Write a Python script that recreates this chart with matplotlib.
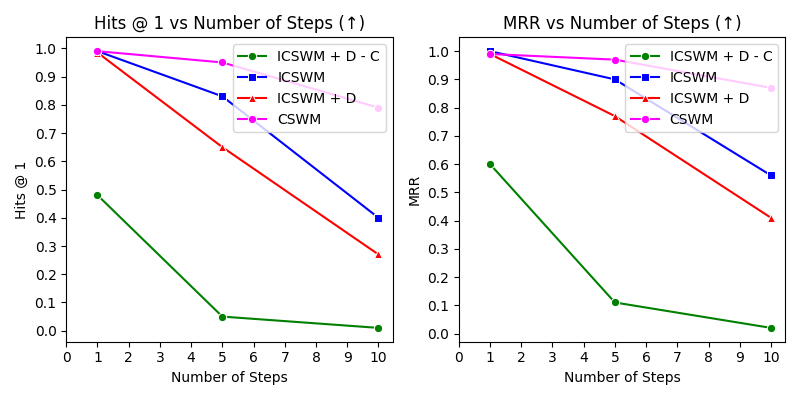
import matplotlib.pyplot as plt

steps = [1, 5, 10]
labels = ['ICSWM + D - C', 'ICSWM', 'ICSWM + D', 'CSWM']
colors = ['green', 'blue', 'red', 'magenta']
markers = ['o', 's', '^', 'o']

hits_icswm_dc = [0.48, 0.05, 0.01]
hits_icswm = [0.99, 0.83, 0.40]
hits_icswm_d = [0.985, 0.65, 0.27]
hits_cswm = [0.99, 0.95, 0.79]

mrr_icswm_dc = [0.60, 0.11, 0.02]
mrr_icswm = [1.00, 0.90, 0.56]
mrr_icswm_d = [0.99, 0.77, 0.41]
mrr_cswm = [0.99, 0.97, 0.87]

hits = [hits_icswm_dc, hits_icswm, hits_icswm_d, hits_cswm]
mrr = [mrr_icswm_dc, mrr_icswm, mrr_icswm_d, mrr_cswm]


def desenha(ax, series, titulo, ylabel):
    for vals, lab, cor, mk in zip(series, labels, colors, markers):
        ax.plot(steps, vals, color=cor, marker=mk, label=lab,
                markersize=6, markeredgecolor='white', markeredgewidth=0.75,
                linewidth=1.5)
    ax.set_xticks(range(11))
    ax.set_yticks([i / 10 for i in range(11)])
    ax.set_title(titulo)
    ax.set_xlabel('Number of Steps')
    ax.set_ylabel(ylabel)
    ax.legend(loc='upper right')


fig, (ax1, ax2) = plt.subplots(1, 2, figsize=(8, 4), dpi=100)
desenha(ax1, hits, 'Hits @ 1 vs Number of Steps (\u2191)', 'Hits @ 1')
desenha(ax2, mrr, 'MRR vs Number of Steps (\u2191)', 'MRR')
plt.tight_layout()
plt.savefig('out.png')
